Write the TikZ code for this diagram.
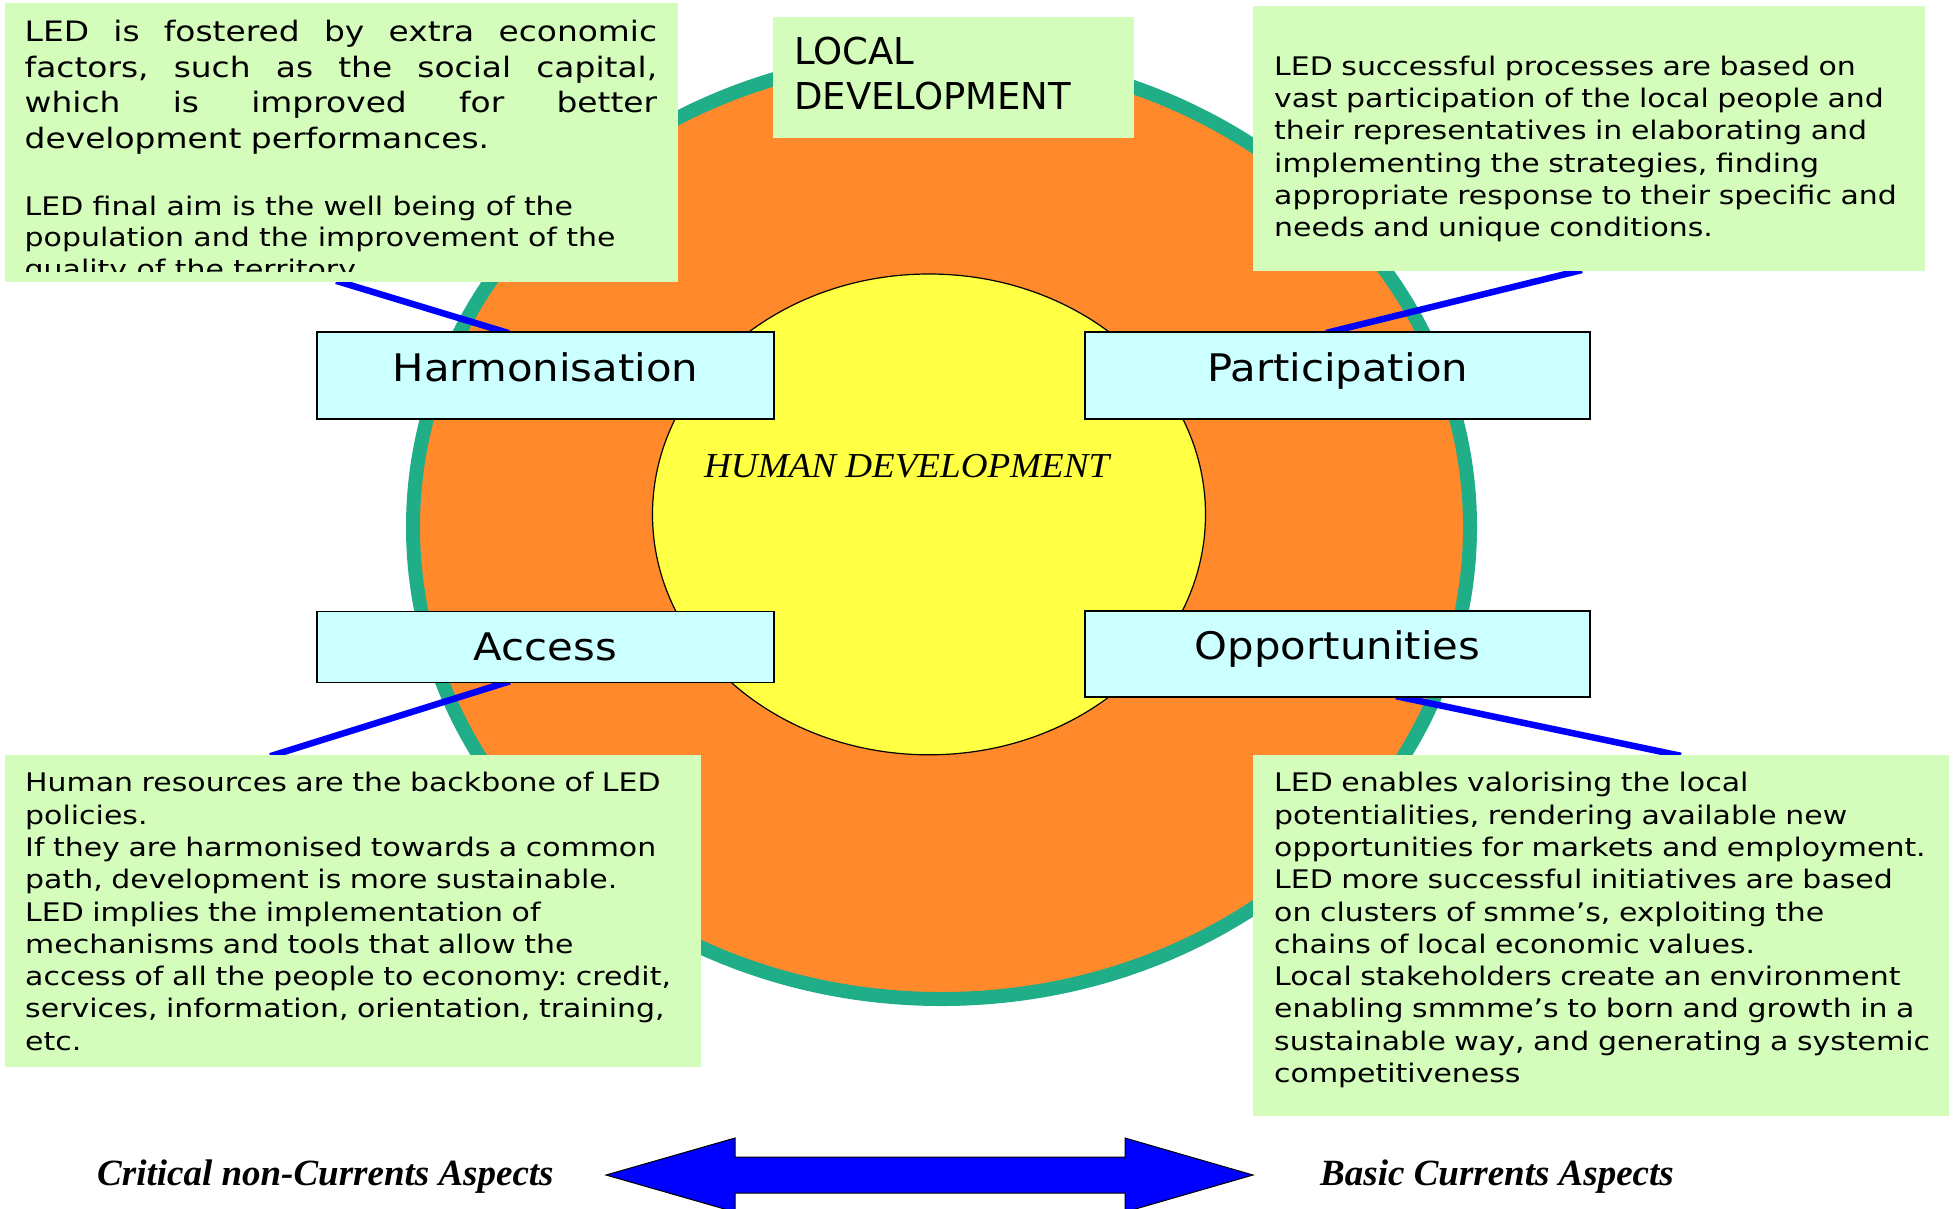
\documentclass[tikz,border=0pt]{standalone}
\usepackage{fontspec}
\setmainfont{Liberation Serif}
\newfontfamily\bodyfont[FakeStretch=1.17]{DejaVu Sans}
\newfontfamily\labelfont[FakeStretch=1.1]{DejaVu Sans}
\newfontfamily\titlefont{DejaVu Sans}
\newfontfamily\centrefont[FakeStretch=1.06]{Liberation Serif}

\definecolor{ldorange}{RGB}{255,137,43}
\definecolor{ldteal}{RGB}{31,174,136}
\definecolor{ldyellow}{RGB}{255,255,68}
\definecolor{ldgreen}{RGB}{212,252,186}
\definecolor{ldcyan}{RGB}{204,255,255}
\definecolor{ldblue}{RGB}{0,0,255}

\pgfdeclarelayer{ellipses}
\pgfdeclarelayer{links}
\pgfsetlayers{ellipses,links,main}

% a line whose word spaces stretch to the full width
\newcommand{\fullline}[2]{\makebox[#1][s]{\spaceskip=0.318em plus 1fil\relax #2}}

\tikzset{
  panel/.style={fill=ldgreen, draw=none, inner sep=0pt, outer sep=0pt, anchor=north west},
  key/.style={fill=ldcyan, draw=black, line width=1.8pt, inner sep=0pt, outer sep=0pt, anchor=north west},
  keylabel/.style={font=\labelfont\fontsize{38}{46}\selectfont, inner sep=0pt, anchor=base},
  bodytext/.style={font=\bodyfont\fontsize{25.6}{32.3}\selectfont\frenchspacing, inner sep=0pt, anchor=north west, text width=700pt, align=left},
  link/.style={draw=ldblue, line width=6.5pt, shorten <=-4pt, shorten >=-4pt},
  aspect/.style={font=\bfseries\itshape\fontsize{37}{44}\selectfont, inner sep=0pt, anchor=base west},
}

\begin{document}
\begin{tikzpicture}[x=1pt,y=-1pt]
\useasboundingbox (0,0) rectangle (1953,1208);

% the two nested development areas
\begin{pgfonlayer}{ellipses}
  \fill[white] (0,0) rectangle (1953,1208);
  \fill[ldorange] (941.5,527) ellipse [x radius=528.5, y radius=472];
  \draw[ldteal, line width=14pt] (941.5,527) ellipse [x radius=528.5, y radius=472];
  \draw[fill=ldyellow, line width=1.2pt] (929,514.4) ellipse [x radius=276.5, y radius=240.4];
\end{pgfonlayer}

\node[font=\centrefont\itshape\fontsize{35}{42}\selectfont, inner sep=0pt, anchor=base west] (human) at (704,477) {HUMAN DEVELOPMENT};

% explanatory panels
\node[panel, minimum width=673pt, minimum height=279pt] (tl) at (5,3) {};
\node[panel, minimum width=672pt, minimum height=265pt] (tr) at (1253,6) {};
\node[panel, minimum width=696pt, minimum height=312pt] (bl) at (5,755) {};
\node[panel, minimum width=696pt, minimum height=361pt] (br) at (1253,755) {};
\node[panel, minimum width=361pt, minimum height=121pt] (locbox) at (773,17) {};

\node[font=\titlefont\fontsize{37}{45}\selectfont, inner sep=0pt, anchor=north west, align=left] (loc) at (794,36.5) {LOCAL\\DEVELOPMENT};

% four key factors
\node[key, minimum width=457pt, minimum height=87pt] (harm) at (317,332) {};
\node[key, minimum width=505pt, minimum height=87pt] (part) at (1085,332) {};
\node[key, minimum width=457pt, minimum height=71pt] (acc) at (317,611.5) {};
\node[key, minimum width=505pt, minimum height=86pt] (opp) at (1085,611) {};

\node[keylabel] (harm-label) at ([yshift=-49pt]harm.north) {Harmonisation};
\node[keylabel] (part-label) at ([yshift=-49pt]part.north) {Participation};
\node[keylabel] (acc-label) at ([yshift=-48.5pt]acc.north) {Access};
\node[keylabel] (opp-label) at ([yshift=-48pt]opp.north) {Opportunities};

% links between factors and panels
\begin{pgfonlayer}{links}
  \draw[link] ([xshift=335pt]tl.south west) -- ([xshift=188pt]harm.north west);
  \draw[link] ([xshift=245pt]part.north west) -- ([xshift=325pt]tr.south west);
  \draw[link] ([xshift=189pt]acc.south west) -- ([xshift=269pt]bl.north west);
  \draw[link] ([xshift=315pt]opp.south west) -- ([xshift=424pt]br.north west);
\end{pgfonlayer}

% panel texts
\begin{scope}
  \clip (tl.north west) rectangle ([yshift=11pt]tl.south east);
  \node[bodytext, text width=632.5pt, font=\bodyfont\fontsize{28.1}{35.5}\selectfont\frenchspacing] (tl-text) at (24.5,20.3) {%
    \fullline{632.5pt}{LED is fostered by extra economic}\\
    \fullline{632.5pt}{factors, such as the social capital,}\\
    \fullline{632.5pt}{which is improved for better}\\
    development performances.\par
    \vspace{35pt}
    \fontsize{25.6}{31.7}\selectfont
    LED final aim is the well being of the\\
    population and the improvement of the\\
    quality of the territory.\par};
\end{scope}

\node[bodytext] (tr-text) at (1274,55.5) {%
  LED successful processes are based on\\
  vast participation of the local people and\\
  their representatives in elaborating and\\
  implementing the strategies, finding\\
  appropriate response to their specific and\\
  needs and unique conditions.};

\node[bodytext] (bl-text) at (25,772.2) {%
  Human resources are the backbone of LED\\
  policies.\\
  If they are harmonised towards a common\\
  path, development is more sustainable.\\
  LED implies the implementation of\\
  mechanisms and tools that allow the\\
  access of all the people to economy: credit,\\
  services, information, orientation, training,\\
  etc.};

\node[bodytext] (br-text) at (1274,772.2) {%
  LED enables valorising the local\\
  potentialities, rendering available new\\
  opportunities for markets and employment.\\
  LED more successful initiatives are based\\
  on clusters of smme’s, exploiting the\\
  chains of local economic values.\\
  Local stakeholders create an environment\\
  enabling smmme’s to born and growth in a\\
  sustainable way, and generating a systemic\\
  competitiveness};

% bottom axis: double arrow between the two kinds of aspects
\draw[fill=ldblue, line width=1pt] (606,1175) -- (735,1138) -- (735,1157) -- (1125,1157)
  -- (1125,1138) -- (1253,1175) -- (1125,1212) -- (1125,1193) -- (735,1193)
  -- (735,1212) -- cycle;

\node[aspect] (crit) at (97,1185) {Critical non-Currents Aspects};
\node[aspect] (basic) at (1320,1185) {Basic Currents Aspects};
\end{tikzpicture}
\end{document}
